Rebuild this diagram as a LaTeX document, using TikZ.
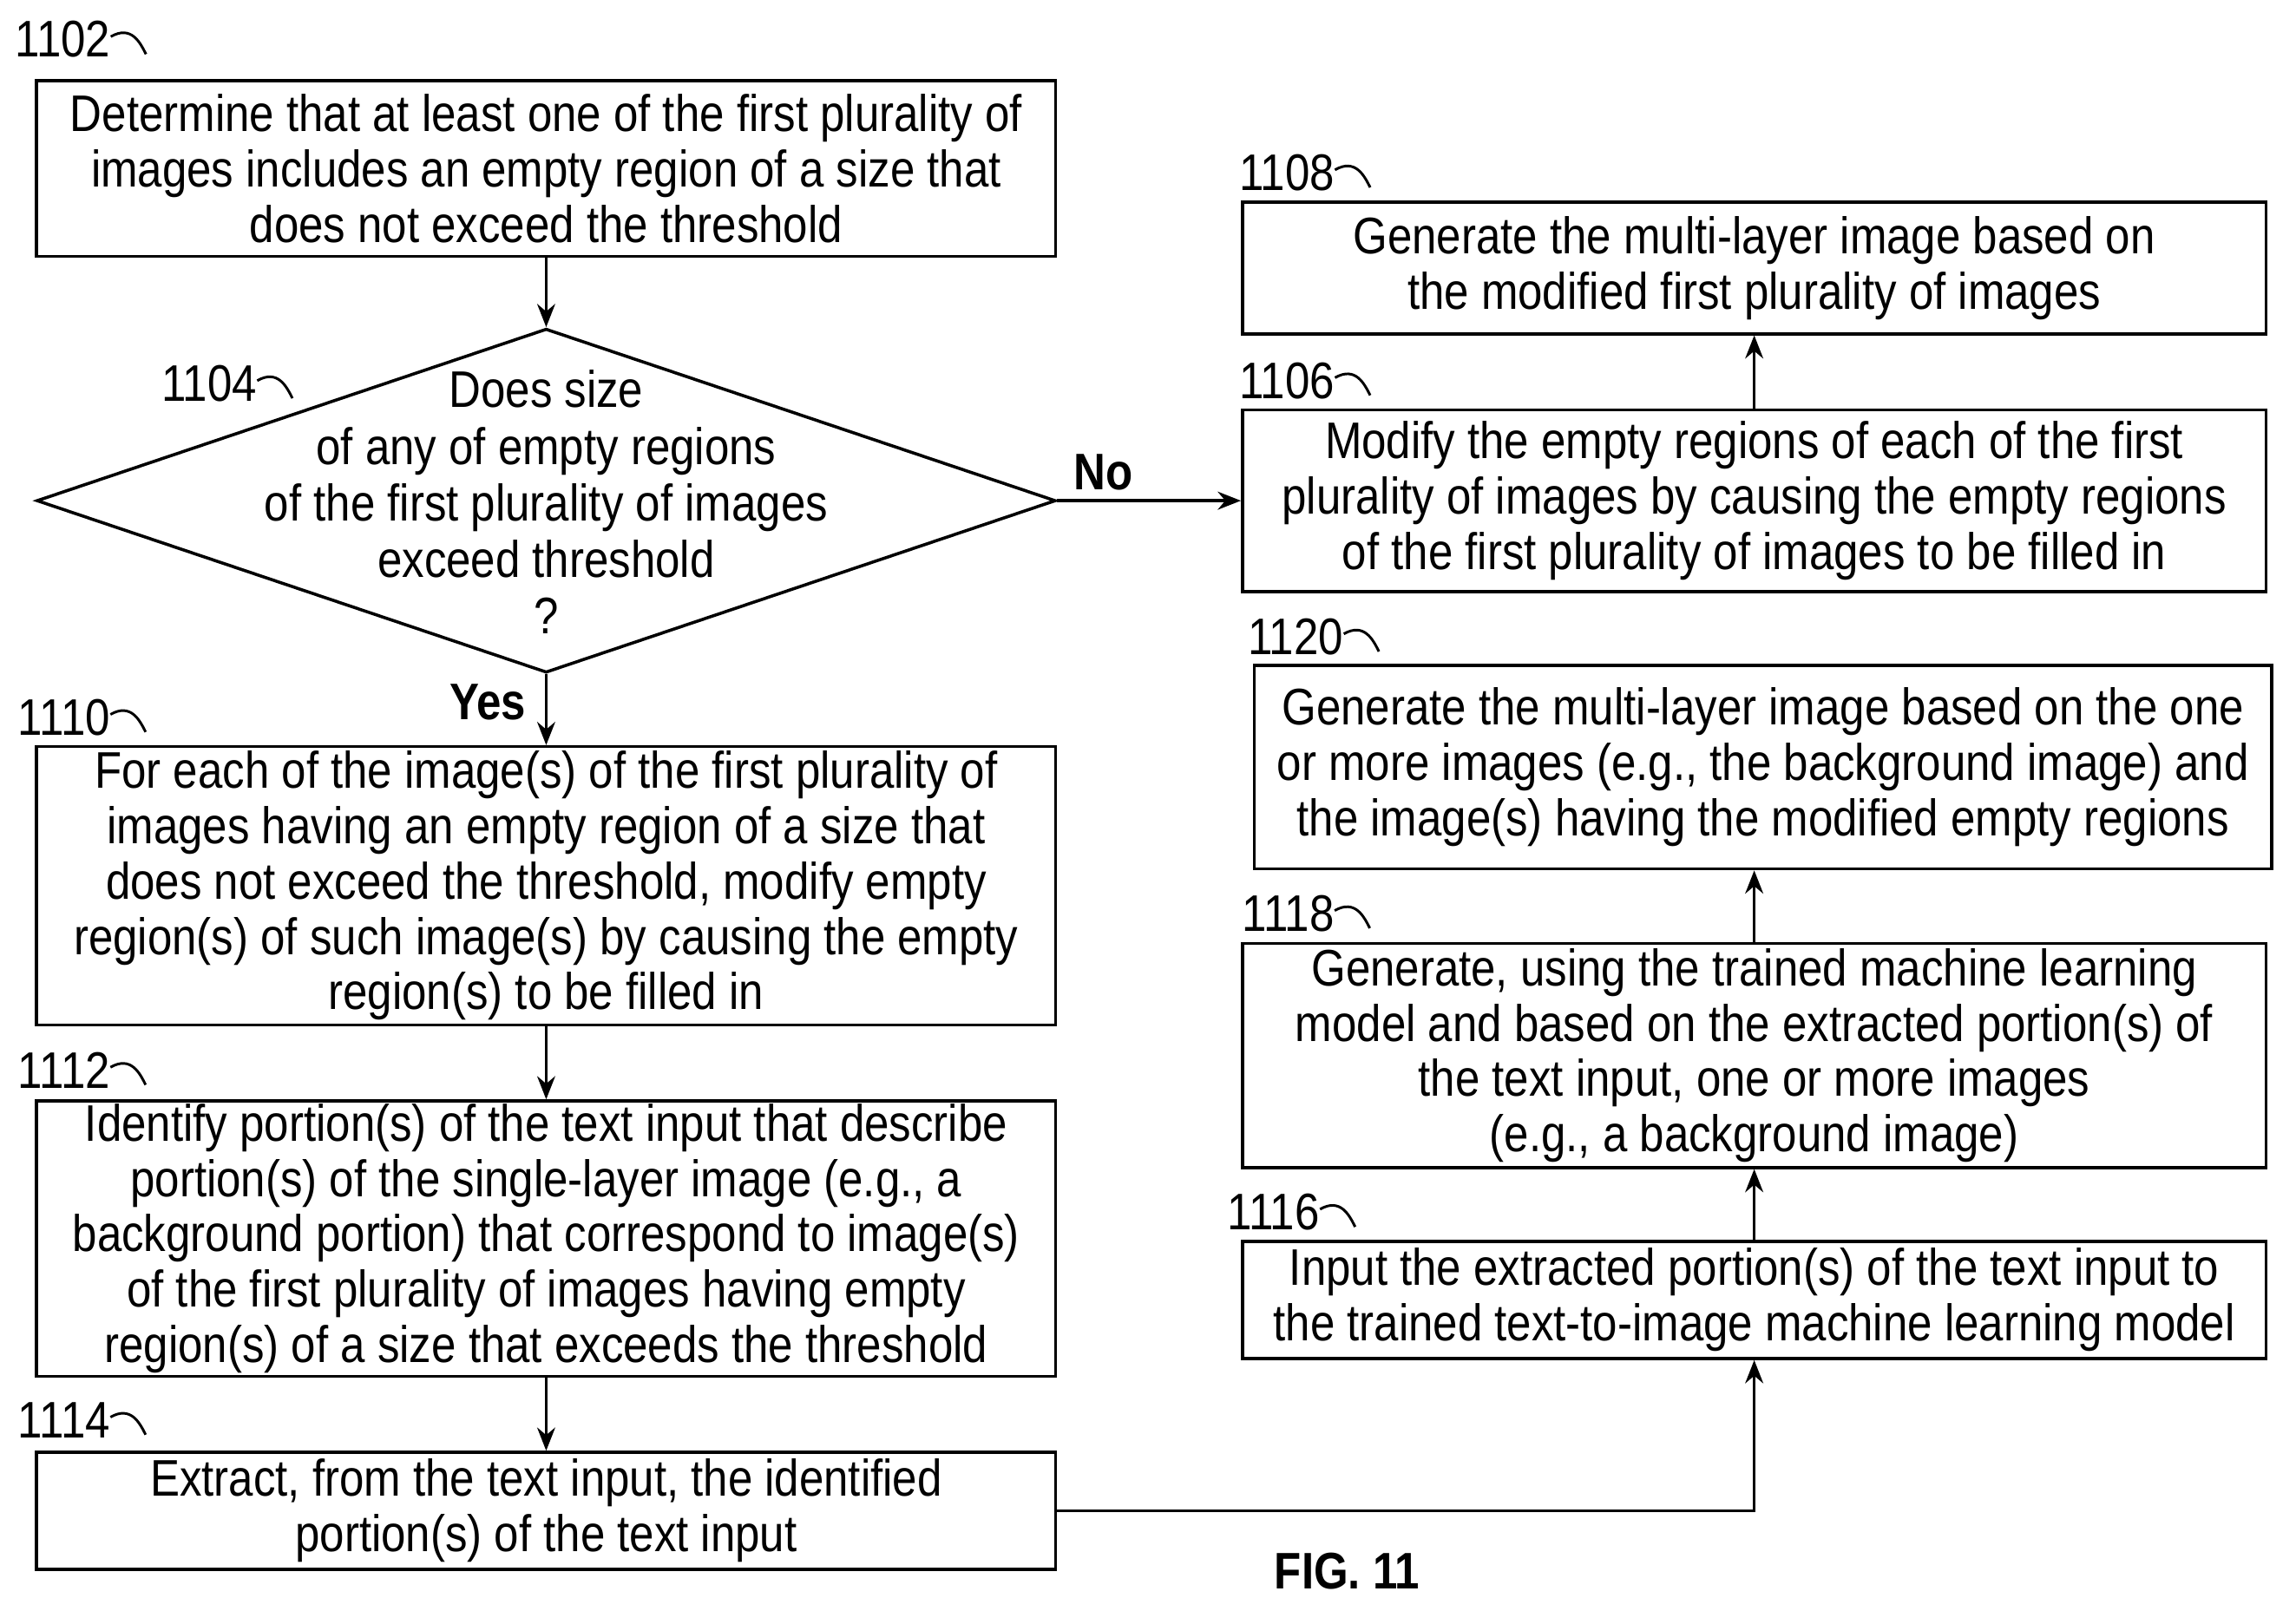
\documentclass[tikz,border=0pt]{standalone}
\usepackage{fontspec}
\setmainfont{Liberation Sans}[FakeStretch=0.86]
\usetikzlibrary{shapes.geometric,arrows.meta}
\begin{document}
\begin{tikzpicture}[x=0.02cm,y=-0.02cm,
 box/.style={draw,line width=1.2pt,align=center,inner sep=0pt,font=\fontsize{20}{21.5}\selectfont},
 arr/.style={line width=1.2pt,-{Stealth[length=9pt,width=7pt]}},
 lab/.style={font=\fontsize{20}{22}\selectfont,anchor=west,inner sep=0pt},
 bl/.style={font=\bfseries\fontsize{20}{22}\selectfont}]
\useasboundingbox (0,0) rectangle (1568,1100);
\newcommand{\reflab}[3]{\node[lab] (#3) at (#1) {#2};
 \draw[line width=1pt] (#3.east) ++(0,-2) .. controls +(14,-8) and +(-4,-8) .. ++(24,12);}
\node[box,minimum width=696*0.02cm,minimum height=120*0.02cm] (b1102) at (373,115) {Determine that at least one of the first plurality of\\images includes an empty region of a size that\\does not exceed the threshold};
\reflab{10,27}{1102}{l1102}
\node[draw,line width=1.2pt,diamond,aspect=2.96,inner sep=0pt,minimum width=696*0.02cm,minimum height=235*0.02cm] (d1104) at (373,342) {};
\node[align=center,font=\fontsize{20}{22}\selectfont] (t1104) at (373,343) {Does size\\of any of empty regions\\of the first plurality of images\\exceed threshold\\?};
\reflab{110,262}{1104}{l1104}
\node[box,minimum width=696*0.02cm,minimum height=190*0.02cm] (b1110) at (373,605) {For each of the image(s) of the first plurality of\\images having an empty region of a size that\\does not exceed the threshold, modify empty\\region(s) of such image(s) by causing the empty\\region(s) to be filled in};
\reflab{12,490}{1110}{l1110}
\node[box,minimum width=696*0.02cm,minimum height=188*0.02cm] (b1112) at (373,846) {Identify portion(s) of the text input that describe\\portion(s) of the single-layer image (e.g., a\\background portion) that correspond to image(s)\\of the first plurality of images having empty\\region(s) of a size that exceeds the threshold};
\reflab{12,731}{1112}{l1112}
\node[box,minimum width=696*0.02cm,minimum height=80*0.02cm] (b1114) at (373,1032) {Extract, from the text input, the identified\\portion(s) of the text input};
\reflab{12,970}{1114}{l1114}
\node[box,minimum width=699*0.02cm,minimum height=90*0.02cm] (b1108) at (1198,183) {Generate the multi-layer image based on\\the modified first plurality of images};
\reflab{846,118}{1108}{l1108}
\node[box,minimum width=699*0.02cm,minimum height=124*0.02cm] (b1106) at (1198,342) {Modify the empty regions of each of the first\\plurality of images by causing the empty regions\\of the first plurality of images to be filled in};
\reflab{846,260}{1106}{l1106}
\node[box,minimum width=695*0.02cm,minimum height=139*0.02cm] (b1120) at (1204,524) {Generate the multi-layer image based on the one\\or more images (e.g., the background image) and\\the image(s) having the modified empty regions};
\reflab{852,435}{1120}{l1120}
\node[box,minimum width=699*0.02cm,minimum height=153*0.02cm] (b1118) at (1198,721) {Generate, using the trained machine learning\\model and based on the extracted portion(s) of\\the text input, one or more images\\(e.g., a background image)};
\reflab{848,624}{1118}{l1118}
\node[box,minimum width=699*0.02cm,minimum height=80*0.02cm] (b1116) at (1198,888) {Input the extracted portion(s) of the text input to\\the trained text-to-image machine learning model};
\reflab{838,828}{1116}{l1116}
\node[bl] (fig) at (920,1073) {FIG. 11};
\draw[arr] (b1102) -- (d1104);
\draw[arr] (d1104) -- node[bl,left,pos=0.4,xshift=-4pt] {Yes} (b1110);
\draw[arr] (d1104) -- node[bl,above,pos=0.25] {No} (b1106);
\draw[arr] (b1110) -- (b1112);
\draw[arr] (b1112) -- (b1114);
\draw[arr] (b1114.east) -| (b1116.south);
\draw[arr] (b1116) -- (b1118);
\draw[arr] (b1118.north) -- (b1118.north |- b1120.south);
\draw[arr] (b1106) -- (b1108);
\end{tikzpicture}
\end{document}
